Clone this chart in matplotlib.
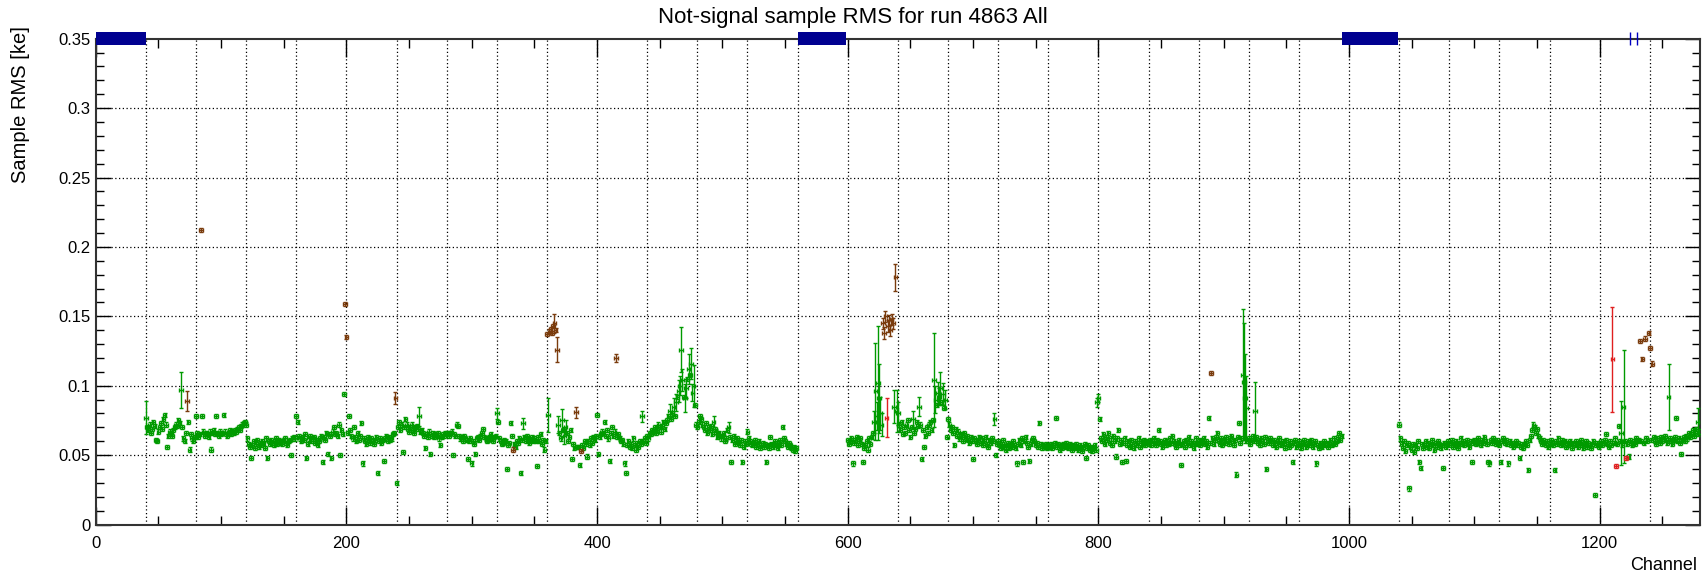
import numpy as np
import matplotlib
matplotlib.use("Agg")
import matplotlib.pyplot as plt

plt.rcParams['font.family'] = ['Liberation Sans', 'DejaVu Sans']

# sample RMS per channel, in units of 1e-3 ke, three live segments
seg1_start = 40
rms_seg1 = [
    77, 70, 68, 72, 66, 69, 74, 71, 61, 60, 67, 70, 73, 69, 76, 79, 72, 56, 64, 67,
    66, 64, 68, 70, 72, 71, 75, 73, 97, 70, 62, 60, 66, 89, 74, 54, 65, 62, 60, 63,
    78, 66, 63, 65, 212, 78, 67, 64, 66, 65, 63, 67, 54, 66, 68, 65, 78, 66, 64, 67,
    65, 66, 79, 67, 65, 64, 66, 68, 65, 67, 66, 68, 67, 69, 70, 68, 71, 72, 73, 74,
    72, 62, 58, 56, 48, 57, 60, 55, 58, 61, 56, 59, 57, 60, 58, 55, 62, 48, 60, 58,
    61, 59, 57, 60, 62, 58, 61, 59, 60, 58, 61, 62, 59, 57, 60, 61, 50, 62, 63, 62,
    78, 74, 64, 62, 60, 63, 61, 65, 48, 58, 62, 64, 60, 62, 63, 59, 61, 57, 60, 62,
    64, 45, 63, 61, 66, 51, 65, 64, 48, 67, 70, 65, 66, 64, 72, 50, 68, 65, 94, 159,
    135, 66, 78, 68, 64, 62, 70, 63, 60, 66, 61, 64, 73, 44, 62, 60, 58, 63, 61, 59,
    62, 60, 58, 61, 63, 37, 60, 62, 59, 61, 46, 62, 64, 60, 63, 61, 62, 65, 66, 91,
    30, 70, 74, 68, 72, 52, 70, 76, 72, 69, 67, 70, 72, 68, 66, 70, 71, 69, 78, 67,
    68, 66, 64, 55, 65, 63, 67, 51, 64, 66, 63, 65, 64, 66, 62, 57, 63, 65, 64, 66,
    66, 65, 64, 66, 67, 50, 65, 64, 72, 71, 64, 62, 63, 60, 64, 62, 61, 47, 60, 62,
    44, 60, 58, 51, 62, 63, 61, 64, 66, 69, 63, 62, 60, 61, 63, 65, 62, 60, 63, 64,
    80, 74, 62, 60, 58, 59, 61, 60, 40, 57, 59, 73, 64, 54, 58, 56, 60, 59, 62, 37,
    61, 73, 63, 60, 64, 62, 59, 61, 63, 60, 62, 60, 42, 63, 60, 65, 58, 61, 54, 60,
    137, 79, 139, 141, 138, 143, 145, 140, 126, 72, 66, 62, 75, 68, 64, 70, 66, 60, 63, 68,
    47, 58, 55, 81, 56, 56, 43, 53, 57, 55, 60, 58, 49, 60, 57, 62, 59, 63, 61, 64,
    79, 51, 63, 65, 67, 66, 74, 64, 68, 62, 46, 66, 70, 64, 67, 120, 63, 65, 62, 60,
    61, 58, 44, 37, 57, 60, 56, 58, 55, 62, 57, 54, 59, 56, 60, 58, 78, 60, 62, 59,
    64, 62, 66, 65, 68, 67, 70, 66, 68, 72, 70, 67, 71, 74, 69, 73, 75, 78, 82, 76,
    80, 85, 78, 88, 92, 96, 100, 126, 104, 92, 91, 98, 105, 112, 108, 116, 95, 100, 86, 72,
    70, 74, 78, 76, 72, 70, 68, 73, 66, 70, 68, 71, 65, 74, 69, 67, 63, 66, 64, 62,
    64, 66, 60, 62, 68, 70, 63, 45, 61, 64, 58, 60, 62, 59, 57, 61, 45, 56, 60, 58,
    67, 62, 60, 58, 57, 59, 61, 56, 58, 60, 55, 57, 59, 56, 58, 45, 57, 55, 63, 58,
    56, 58, 60, 57, 55, 59, 61, 57, 70, 62, 60, 58, 56, 59, 57, 55, 54, 56, 53, 55,
]
seg2_start = 600
rms_seg2 = [
    61, 58, 60, 62, 44, 59, 61, 63, 57, 60, 62, 58, 45, 55, 57, 60, 54, 62, 58, 63,
    66, 74, 96, 78, 102, 91, 80, 72, 145, 138, 150, 77, 143, 147, 140, 148, 145, 85, 178, 82,
    80, 72, 68, 74, 65, 70, 66, 72, 75, 68, 63, 70, 76, 66, 69, 74, 71, 85, 72, 47,
    68, 56, 64, 70, 66, 72, 74, 68, 75, 104, 90, 86, 95, 92, 98, 88, 94, 84, 90, 63,
    76, 72, 68, 70, 66, 57, 69, 64, 67, 62, 65, 63, 60, 66, 62, 64, 61, 59, 63, 60,
    47, 62, 60, 58, 61, 63, 59, 62, 57, 60, 63, 58, 56, 61, 59, 62, 60, 76, 50, 58,
    60, 57, 55, 58, 61, 56, 54, 57, 59, 55, 58, 56, 60, 57, 55, 44, 58, 61, 57, 62,
    45, 60, 63, 59, 56, 46, 58, 61, 62, 60, 57, 59, 56, 73, 58, 55, 57, 56, 58, 55,
    57, 56, 58, 55, 57, 59, 77, 56, 58, 54, 57, 55, 58, 56, 59, 57, 55, 58, 56, 54,
    57, 55, 58, 56, 54, 57, 55, 53, 56, 58, 48, 55, 57, 54, 56, 53, 55, 57, 54, 88,
    91, 76, 62, 60, 65, 58, 63, 61, 66, 59, 62, 57, 64, 60, 49, 62, 68, 58, 61, 45,
    59, 62, 46, 57, 60, 56, 61, 58, 55, 60, 57, 59, 62, 56, 60, 58, 61, 57, 59, 60,
    58, 61, 57, 60, 62, 59, 57, 61, 68, 60, 58, 56, 59, 61, 57, 60, 58, 62, 59, 64,
    60, 58, 56, 59, 61, 57, 43, 58, 60, 56, 61, 59, 63, 57, 60, 58, 55, 59, 62, 58,
    60, 57, 61, 59, 62, 58, 60, 56, 77, 59, 109, 62, 58, 61, 63, 66, 60, 58, 62, 57,
    61, 59, 63, 60, 58, 62, 64, 60, 57, 61, 36, 63, 73, 59, 62, 108, 103, 91, 84, 60,
    62, 58, 61, 64, 60, 82, 63, 59, 61, 57, 62, 60, 58, 63, 40, 61, 59, 62, 60, 57,
    61, 59, 56, 60, 62, 58, 57, 60, 59, 55, 61, 58, 56, 60, 57, 45, 59, 61, 56, 58,
    60, 57, 55, 59, 61, 58, 56, 60, 57, 59, 61, 56, 58, 60, 44, 57, 55, 59, 56, 58,
    60, 57, 59, 56, 58, 61, 57, 59, 62, 58, 60, 63, 66, 61, 64,
]
seg3_start = 1040
rms_seg3 = [
    72, 62, 58, 55, 60, 53, 57, 59, 26, 56, 54, 58, 52, 57, 55, 60, 45, 41, 58, 55,
    57, 60, 56, 59, 55, 58, 61, 57, 54, 59, 56, 60, 58, 55, 57, 41, 59, 56, 58, 60,
    57, 59, 61, 56, 58, 60, 57, 55, 59, 62, 58, 60, 57, 59, 61, 58, 56, 60, 45, 59,
    61, 58, 60, 62, 59, 57, 61, 59, 63, 60, 58, 45, 44, 61, 59, 62, 60, 58, 61, 59,
    57, 45, 60, 62, 59, 61, 58, 44, 60, 57, 59, 56, 58, 60, 57, 59, 48, 56, 58, 55,
    58, 60, 57, 39, 61, 64, 68, 72, 70, 66, 69, 64, 62, 60, 58, 61, 59, 57, 60, 56,
    58, 61, 59, 57, 39, 60, 58, 62, 59, 57, 61, 58, 60, 56, 59, 57, 60, 58, 55, 59,
    57, 60, 58, 56, 59, 61, 57, 55, 58, 60, 56, 59, 57, 55, 58, 60, 21, 57, 59, 56,
    58, 60, 57, 59, 61, 65, 58, 56, 60, 57, 119, 59, 62, 42, 58, 71, 60, 66, 57, 85,
    60, 48, 58, 49, 61, 59, 57, 60, 58, 62, 60, 61, 132, 60, 119, 59, 134, 62, 60, 138,
    127, 61, 116, 63, 60, 58, 62, 61, 59, 63, 60, 62, 64, 61, 59, 92, 62, 60, 58, 61,
    63, 77, 60, 62, 59, 51, 61, 63, 60, 64, 62, 66, 63, 65, 68, 64, 66, 69, 74, 67,
]

# channels flagged in other colours
brown_ch = [73, 84, 199, 200, 239, 333, 360, 362, 363, 364, 365, 366, 367, 368,
            383, 387, 415, 628, 629, 630, 632, 633, 634, 635, 636, 638, 890,
            1232, 1234, 1236, 1239, 1240, 1242]
red_ch = [631, 1210, 1213, 1221]

# channels whose error is larger than the default (1e-3 ke)
err_default = 1.5
err_ch = [40, 68, 73, 239, 258, 320, 341, 361, 366, 368, 369, 372, 374, 375, 383,
          415, 436, 458, 461, 463, 465, 466, 467, 468, 470, 471, 473, 475, 476, 477,
          493, 505, 621, 622, 623, 624, 625, 626, 627, 628, 629, 630, 631, 632, 633,
          634, 635, 636, 637, 638, 639, 640, 652, 657, 669, 670, 672, 673, 674, 676,
          678, 717, 799, 800, 915, 916, 917, 918, 925, 1210, 1217, 1219, 1255, 1278]
err_val = [12, 13, 7, 4.5, 7, 4, 4, 12, 7, 9, 6, 8, 6, 5, 4,
           3, 4, 5, 6, 6, 8, 7, 16, 8, 10, 7, 11, 11, 6, 15,
           4, 4, 8, 35, 10, 41, 25, 12, 8, 4, 4, 4, 14, 4, 4,
           4, 4, 4, 12, 10, 15, 8, 6, 7, 34, 10, 8, 6, 12, 8,
           7, 4, 3, 3, 47, 42, 32, 23, 21, 38, 23, 41, 24, 10]

# dead channel ranges, drawn along the top
dead_lo = [0, 560, 994, 1224, 1230]
dead_hi = [40, 599, 1039, 1224, 1230]

ch = np.concatenate([seg1_start + np.arange(len(rms_seg1)),
                     seg2_start + np.arange(len(rms_seg2)),
                     seg3_start + np.arange(len(rms_seg3))])
rms = np.array(rms_seg1 + rms_seg2 + rms_seg3, dtype=float) / 1000.0
err = np.full(len(ch), err_default)
for c, e in zip(err_ch, err_val):
    err[ch == c] = e
err = err / 1000.0

is_brown = np.isin(ch, brown_ch)
is_red = np.isin(ch, red_ch)
is_green = ~(is_brown | is_red)

fig = plt.figure(figsize=(17.06, 5.75), dpi=100)
ax = fig.add_axes([0.0561, 0.0878, 0.9404, 0.8449])

for mask, col in [(is_green, '#009a00'), (is_brown, '#7a3b0c'), (is_red, '#e02020')]:
    ax.errorbar(ch[mask], rms[mask], yerr=err[mask], xerr=1.4, fmt='none',
                ecolor=col, elinewidth=1.0, capsize=1.7, capthick=1.0, zorder=3)

# dead channels
for lo, hi in zip(dead_lo, dead_hi):
    if hi > lo:
        ax.fill_between([lo, hi], 0.3455, 0.3545, color='#000090', lw=0, clip_on=False, zorder=5)
    else:
        ax.vlines(lo, 0.3455, 0.3545, color='#0000c0', lw=1, clip_on=False, zorder=5)

ax.set_xlim(0, 1280)
ax.set_ylim(0, 0.35)

# grid
for gx in np.arange(40, 1280, 40):
    ax.axvline(gx, color='black', lw=0.9, ls=(0, (1, 2)), zorder=1)
for gy in np.arange(0.05, 0.35, 0.05):
    ax.axhline(gy, color='black', lw=0.9, ls=(0, (1, 2)), zorder=1)

ax.set_xticks(np.arange(0, 1281, 200))
ax.set_xticks(np.arange(0, 1281, 50), minor=True)
ax.set_yticks(np.arange(0, 0.351, 0.05))
ax.set_yticks(np.arange(0, 0.351, 0.01), minor=True)
ax.set_yticklabels(['0', '0.05', '0.1', '0.15', '0.2', '0.25', '0.3', '0.35'])
ax.tick_params(which='both', direction='in', top=True, right=True, labelsize=12, width=1.0)
ax.tick_params(axis='y', which='major', length=11)
ax.tick_params(axis='y', which='minor', length=5.5)
ax.tick_params(axis='x', which='major', length=13)
ax.tick_params(axis='x', which='minor', length=6.5)
ax.tick_params(axis='x', pad=8)
for s in ax.spines.values():
    s.set_linewidth(1.5)
    s.set_color('#333333')

fig.text(0.50, 0.970, 'Not-signal sample RMS for run 4863 All', ha='center', va='center', fontsize=16)
fig.text(0.012, 0.955, 'Sample RMS [ke]', rotation=90, ha='center', va='top', fontsize=14.5)
fig.text(0.9947, 0.016, 'Channel', ha='right', va='center', fontsize=13)

fig.savefig('out.png', dpi=100)
